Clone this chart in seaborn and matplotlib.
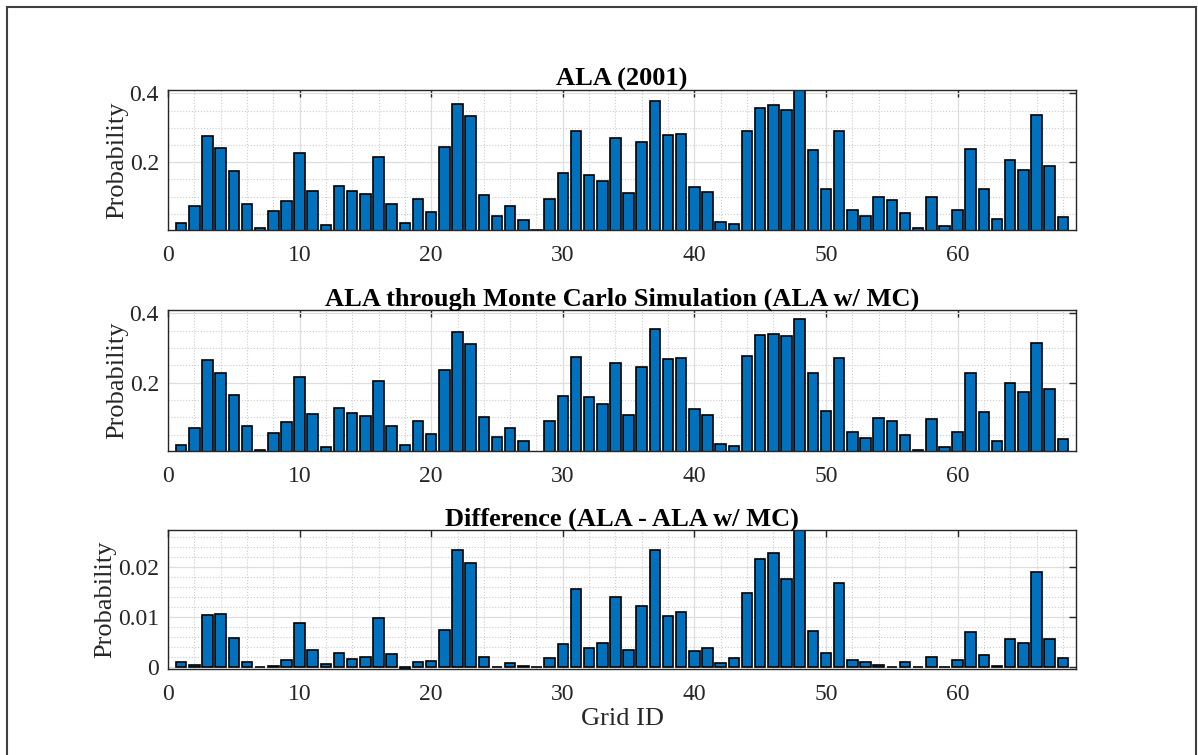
import numpy as np
import pandas as pd
import seaborn as sns
import matplotlib.pyplot as plt
from matplotlib.ticker import MultipleLocator, FuncFormatter
from matplotlib.patches import Rectangle

# grid ids 1..68
grid_id = list(range(1, 69))

# ALA (2001)
ala = [0.022, 0.072, 0.277, 0.240, 0.173, 0.079, 0.007, 0.057, 0.088, 0.227,
       0.116, 0.017, 0.131, 0.116, 0.107, 0.215, 0.079, 0.022, 0.092, 0.054,
       0.245, 0.370, 0.334, 0.104, 0.044, 0.072, 0.033, 0.0025, 0.094, 0.168,
       0.290, 0.163, 0.146, 0.270, 0.111, 0.258, 0.379, 0.280, 0.283, 0.129,
       0.113, 0.026, 0.021, 0.292, 0.358, 0.366, 0.353, 0.410, 0.236, 0.122,
       0.290, 0.061, 0.044, 0.100, 0.091, 0.051, 0.008, 0.099, 0.015, 0.061,
       0.237, 0.121, 0.034, 0.207, 0.178, 0.338, 0.188, 0.040]

# ALA w/ MC
ala_mc = [0.019, 0.070, 0.265, 0.228, 0.164, 0.076, 0.005, 0.054, 0.085, 0.217,
          0.109, 0.014, 0.127, 0.112, 0.103, 0.204, 0.074, 0.020, 0.088, 0.051,
          0.236, 0.345, 0.312, 0.101, 0.043, 0.070, 0.030, 0.001, 0.090, 0.162,
          0.273, 0.158, 0.139, 0.256, 0.106, 0.244, 0.354, 0.268, 0.270, 0.124,
          0.107, 0.023, 0.018, 0.276, 0.337, 0.342, 0.334, 0.383, 0.228, 0.118,
          0.271, 0.058, 0.041, 0.099, 0.089, 0.048, 0.006, 0.095, 0.013, 0.058,
          0.229, 0.116, 0.032, 0.200, 0.174, 0.316, 0.181, 0.036]

# difference
diff = [0.0011, 0.0004, 0.0104, 0.0107, 0.0058, 0.0010, 0.0001, 0.0002, 0.0014, 0.0088,
        0.0034, 0.0007, 0.0028, 0.0017, 0.0020, 0.0099, 0.0026, -0.0003, 0.0010, 0.0012,
        0.0074, 0.0234, 0.0208, 0.0020, 0.0000, 0.0008, 0.0003, 0.0001, 0.0018, 0.0047,
        0.0156, 0.0039, 0.0049, 0.0141, 0.0034, 0.0122, 0.0234, 0.0102, 0.0110, 0.0033,
        0.0039, 0.0009, 0.0018, 0.0148, 0.0217, 0.0229, 0.0177, 0.0274, 0.0072, 0.0028,
        0.0168, 0.0015, 0.0011, 0.0005, 0.0001, 0.0010, 0.0000, 0.0021, 0.0000, 0.0014,
        0.0070, 0.0024, 0.0003, 0.0057, 0.0049, 0.0191, 0.0057, 0.0019]

titles = ['ALA (2001)',
          'ALA through Monte Carlo Simulation (ALA w/ MC)',
          'Difference (ALA - ALA w/ MC)']

sns.set_theme(style='white')
plt.rcParams['font.family'] = ['Liberation Serif', 'DejaVu Serif']

fig = plt.figure(figsize=(11.98, 7.55), dpi=100)
W, H = 1198, 755
boxes = [(168, 90, 1076, 230), (168, 310, 1076, 451), (168, 530, 1076, 669)]
axes = [fig.add_axes([l / W, 1 - b / H, (r - l) / W, (b - t) / H]) for l, t, r, b in boxes]

series = [ala, ala_mc, diff]
ylims = [(min(ala), max(ala)), (min(ala), max(ala)), (min(diff), max(diff))]
ymaj = [0.2, 0.2, 0.01]
ymin = [0.05, 0.05, 0.002]

for ax, vals, title, yl, mj, mn in zip(axes, series, titles, ylims, ymaj, ymin):
    df = pd.DataFrame({'grid': grid_id, 'p': vals})
    sns.barplot(data=df, x='grid', y='p', native_scale=True, color='#0072BD',
                saturation=1, edgecolor='black', linewidth=1.2, width=0.8,
                errorbar=None, ax=ax)
    ax.set_xlim(0, 69)
    ax.set_ylim(*yl)
    ax.xaxis.set_major_locator(MultipleLocator(10))
    ax.xaxis.set_minor_locator(MultipleLocator(2))
    ax.yaxis.set_major_locator(MultipleLocator(mj))
    ax.yaxis.set_minor_locator(MultipleLocator(mn))
    ax.yaxis.set_major_formatter(FuncFormatter(lambda v, p: f'{v:g}'))
    ax.xaxis.set_major_formatter(FuncFormatter(lambda v, p: f'{v:g}'))
    ax.set_axisbelow(True)
    ax.grid(which='major', color='#dedede', ls='-', lw=0.9)
    ax.grid(which='minor', color='#cccccc', ls=':', lw=0.8)
    ax.tick_params(which='major', direction='in', top=True, right=True,
                   length=5, width=1, color='#262626', labelsize=17,
                   labelcolor='#262626')
    ax.tick_params(axis='x', which='major', pad=11)
    ax.tick_params(axis='y', which='major', pad=6.5)
    ax.tick_params(which='minor', length=0)
    for s in ax.spines.values():
        s.set_color('#262626')
        s.set_linewidth(1.0)
    ax.set_title(title, fontsize=19, fontweight='bold', color='black', pad=3)
    ax.set_ylabel('Probability', fontsize=19, color='#262626', labelpad=1)
    ax.set_xlabel('')

axes[2].set_xlabel('Grid ID', fontsize=19, color='#262626', labelpad=2)

# outer frame
fig.patches.append(Rectangle((7 / W, -0.05), 1189 / W, 1 - 7 / H + 0.05,
                             transform=fig.transFigure, fill=False,
                             edgecolor='#404040', lw=1.5))

fig.savefig('out.png', dpi=100)
